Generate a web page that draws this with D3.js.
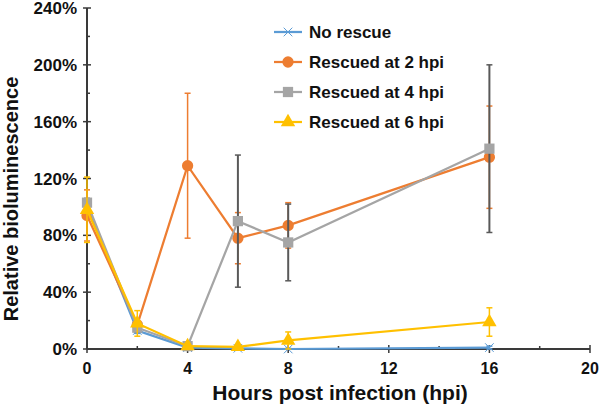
<!DOCTYPE html>
<html><head><meta charset="utf-8">
<script src="https://cdn.jsdelivr.net/npm/d3@7"></script>
<style>body{margin:0;background:#fff}svg{display:block}text{font-family:"Liberation Sans",Arial,sans-serif;font-weight:bold;fill:#111}</style>
</head><body><svg id="c" width="600" height="409"></svg>
<script>
const hours = [0, 2, 4, 6, 8, 16];
const seriesNames = ["No rescue", "Rescued at 2 hpi", "Rescued at 4 hpi", "Rescued at 6 hpi"];
const noRescue = [100, 13, 1, 0.5, 0, 1];
const noRescueErr = [3, 2, 1, 0.5, 0.5, 1];
const rescued2 = [94, 17, 129, 78, 87, 135];
const rescued2Err = [18, 3, 51, 18, 16, 36];
const rescued4 = [103, 15, 2, 90, 75, 141];
const rescued4Err = [3, 3, 1, 46.5, 27, 59];
const rescued6 = [98, 18, 2, 1.5, 6, 19];
const rescued6Err = [23, 9, 1, 1, 6, 10];
const xTicks = [0, 4, 8, 12, 16, 20];
const yTicks = [0, 40, 80, 120, 160, 200, 240];

const colors = ["#5B9BD5", "#ED7D31", "#A5A5A5", "#FFC000"];
const errColors = ["#5B9BD5", "#ED7D31", "#595959", "#FFC000"];
const symbols = [d3.symbolX, d3.symbolCircle, d3.symbolSquare, d3.symbolTriangle];
const symSizes = [50, 100, 105, 90];
const vals = [noRescue, rescued2, rescued4, rescued6];
const errs = [noRescueErr, rescued2Err, rescued4Err, rescued6Err];

const svg = d3.select("#c");
const x = d3.scaleLinear().domain([0, 20]).range([87, 590]);
const y = d3.scaleLinear().domain([0, 240]).range([349, 8]);
const axisCol = "#3a3a3a";

// Y axis
const gy = svg.append("g");
gy.append("line").attr("x1", x(0)).attr("x2", x(0)).attr("y1", y(0)).attr("y2", y(240)).attr("stroke", axisCol).attr("stroke-width", 2);
d3.range(20, 240, 40).forEach(v => gy.append("line").attr("x1", x(0)).attr("x2", x(0) + 3).attr("y1", y(v)).attr("y2", y(v)).attr("stroke", axisCol).attr("stroke-width", 1.5));
yTicks.forEach(v => {
  gy.append("line").attr("x1", x(0) - 4).attr("x2", x(0) + 4).attr("y1", y(v)).attr("y2", y(v)).attr("stroke", axisCol).attr("stroke-width", 1.5);
  gy.append("text").attr("x", 77).attr("y", y(v)).attr("dy", "0.36em").attr("text-anchor", "end").style("font-size", "17px").text(v + "%");
});
// X axis
const gx = svg.append("g");
gx.append("line").attr("x1", x(0)).attr("x2", x(20)).attr("y1", y(0)).attr("y2", y(0)).attr("stroke", axisCol).attr("stroke-width", 2);
d3.range(2, 20, 4).forEach(v => gx.append("line").attr("x1", x(v)).attr("x2", x(v)).attr("y1", y(0)).attr("y2", y(0) - 3).attr("stroke", axisCol).attr("stroke-width", 1.5));
xTicks.forEach(v => {
  gx.append("line").attr("x1", x(v)).attr("x2", x(v)).attr("y1", y(0) - 4).attr("y2", y(0) + 4).attr("stroke", axisCol).attr("stroke-width", 1.5);
  gx.append("text").attr("x", x(v)).attr("y", 374).attr("text-anchor", "middle").style("font-size", "16px").text(v);
});

// titles
svg.append("text").attr("x", 340).attr("y", 400).attr("text-anchor", "middle").style("font-size", "21px").text("Hours post infection (hpi)");
svg.append("text").attr("transform", "translate(11,199) rotate(-90)").attr("dy", "0.35em").attr("text-anchor", "middle").style("font-size", "20px").text("Relative bioluminescence");

const line = d3.line().x(d => x(d[0])).y(d => y(d[1]));
const plot = svg.append("g");
vals.forEach((vs, i) => {
  const g = plot.append("g");
  // error bars
  hours.forEach((h, j) => {
    const e = errs[i][j];
    const lo = Math.max(0, vs[j] - e), hi = vs[j] + e;
    g.append("line").attr("x1", x(h)).attr("x2", x(h)).attr("y1", y(lo)).attr("y2", y(hi)).attr("stroke", errColors[i]).attr("stroke-width", i === 2 ? 2 : 1.5);
    [lo, hi].forEach(v => g.append("line").attr("x1", x(h) - 3).attr("x2", x(h) + 3).attr("y1", y(v)).attr("y2", y(v)).attr("stroke", errColors[i]).attr("stroke-width", 1.5));
  });
  g.append("path").datum(hours.map((h, j) => [h, vs[j]])).attr("d", line).attr("fill", "none").attr("stroke", colors[i]).attr("stroke-width", 2.25);
  hours.forEach((h, j) => {
    const s = g.append("path").attr("d", d3.symbol(symbols[i], symSizes[i])()).attr("transform", `translate(${x(h)},${y(vs[j])})`);
    if (i === 0) s.attr("fill", colors[i]).attr("stroke", colors[i]).attr("stroke-width", 1); else s.attr("fill", colors[i]);
  });
});

// legend
const leg = svg.append("g");
seriesNames.forEach((n, i) => {
  const ly = 32 + i * 30;
  leg.append("line").attr("x1", 274).attr("x2", 302).attr("y1", ly).attr("y2", ly).attr("stroke", colors[i]).attr("stroke-width", 2.25);
  leg.append("path").attr("d", d3.symbol(symbols[i], symSizes[i])()).attr("transform", `translate(288,${ly})`).attr("fill", colors[i]).attr("stroke", i === 0 ? colors[i] : "none");
  leg.append("text").attr("x", 309).attr("y", ly).attr("dy", "0.36em").style("font-size", "17px").text(n);
});
</script></body></html>
